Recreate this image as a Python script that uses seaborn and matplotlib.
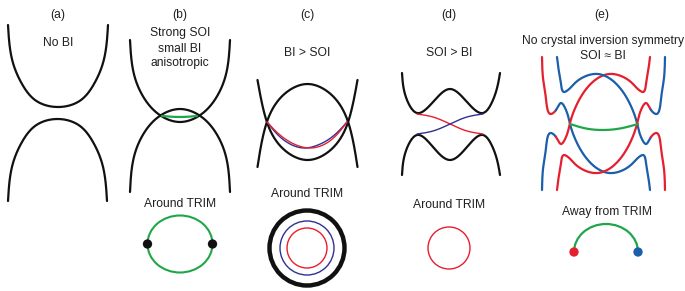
import numpy as np
import matplotlib
matplotlib.use("Agg")
import matplotlib.pyplot as plt
import seaborn as sns
from matplotlib.patches import Circle, Ellipse, Arc

# ==========================================
# Key points of the schematic curves (pixels, y down)
# ==========================================

# (a) no BI
a_up_x = [8, 13, 22, 35, 58, 81, 94, 103, 108]
a_up_y = [25, 63, 84, 100, 107, 100, 84, 63, 25]
a_lo_x = [8, 13, 22, 35, 57.5, 80, 93, 102, 107]
a_lo_y = [201, 163, 142, 126, 119, 126, 142, 163, 201]

# (b) strong SOI, small BI
b_up_x = [130, 135, 144, 157, 180, 203, 216, 225, 230]
b_up_y = [40, 78, 98, 113, 122, 113, 98, 78, 40]
b_lo_x = [130, 135, 144, 157, 180, 203, 216, 225, 230]
b_lo_y = [192, 153, 133, 118, 109, 118, 133, 153, 192]
b_green_x = [162, 180, 197]
b_green_y = [116, 117, 116]

# (c) BI > SOI
c_up_x = [257.5, 263.5, 272.5, 287.5, 307.5, 327.5, 342.5, 351.5, 357.5]
c_up_y = [80, 110, 135, 152.5, 160, 152.5, 135, 110, 80]
c_lo_x = [257.5, 263.5, 272.5, 287.5, 307.5, 327.5, 342.5, 351.5, 357.5]
c_lo_y = [167, 134, 109, 91.5, 84, 91.5, 109, 134, 167]
c_red_x = [267, 280, 295, 311, 325, 337, 347]
c_red_y = [122, 135, 144.5, 148, 144, 134.5, 122]
c_blue_x = [267, 277, 290, 304, 318, 332, 347]
c_blue_y = [122, 134, 144, 148, 145, 137, 122]

# (d) SOI > BI
d_up_x = [402, 407, 417, 433, 450, 467, 483, 493, 500]
d_up_y = [73, 100, 113, 102, 89, 102, 113, 100, 73]
d_lo_x = [402, 407, 417, 433, 450, 467, 483, 493, 500]
d_lo_y = [175, 148, 135, 147, 160, 147, 135, 148, 175]
d_red_x = [417, 433, 450, 467, 483]
d_red_y = [114, 117, 124, 131, 134]
d_blue_x = [417, 433, 450, 467, 483]
d_blue_y = [134, 131, 124, 117, 114]

# (e) no crystal inversion symmetry, four bands (colour changes at one knot)
e1_x = [542, 543, 546, 551, 556, 561, 566, 570, 577, 587, 598, 609, 621, 632, 639, 643, 646, 648, 650]
e1_y = [57, 78, 99, 114, 110, 103, 110, 124, 143, 159, 169, 173, 171, 164, 157, 155, 163, 175, 190]
e3_x = [542, 543, 546, 551, 556, 561, 566, 570, 577, 587, 598, 609, 621, 632, 639, 643, 646, 648, 650]
e3_y = [190, 169, 148, 133, 137, 144, 137, 123, 104, 88, 78, 74, 76, 83, 90, 92, 84, 72, 57]
e2_x = [557, 559, 561, 564, 568, 575, 586, 598, 609, 620, 630, 637, 641, 646, 651, 656, 661, 664, 665]
e2_y = [57, 72, 84, 92, 90, 83, 76, 74, 78, 88, 104, 123, 137, 144, 137, 133, 148, 169, 190]
e4_x = [557, 559, 561, 564, 568, 575, 586, 598, 609, 620, 630, 637, 641, 646, 651, 656, 661, 664, 665]
e4_y = [190, 175, 163, 155, 157, 164, 171, 173, 169, 159, 143, 124, 110, 103, 110, 114, 99, 78, 57]
e_green_x = [570, 586, 602, 620, 638]
e_green_y = [124, 128.5, 130, 128.5, 124]

# labels
titles = ["(a)", "(b)", "(c)", "(d)", "(e)"]
title_x = [58, 180, 307, 449, 602]

RED = "#E5202E"
NAVY = "#2E3192"
BLUE = "#1B5EAA"
GREEN = "#1FA64A"
BLACK = "#111111"
TXT = "#231F20"


def natural(t, v, ts):
    # natural cubic spline of v(t), evaluated at ts
    n = len(t)
    h = np.diff(t)
    A = np.zeros((n, n))
    r = np.zeros(n)
    A[0, 0] = A[-1, -1] = 1.0
    for i in range(1, n - 1):
        A[i, i - 1] = h[i - 1]
        A[i, i] = 2 * (h[i - 1] + h[i])
        A[i, i + 1] = h[i]
        r[i] = 6 * ((v[i + 1] - v[i]) / h[i] - (v[i] - v[i - 1]) / h[i - 1])
    M = np.linalg.solve(A, r)
    i = np.clip(np.searchsorted(t, ts) - 1, 0, n - 2)
    a = (t[i + 1] - ts) / h[i]
    b = (ts - t[i]) / h[i]
    return (a * v[i] + b * v[i + 1]
            + ((a**3 - a) * M[i] + (b**3 - b) * M[i + 1]) * h[i] ** 2 / 6)


def smooth(xk, yk, n=500):
    xk = np.asarray(xk, float)
    yk = np.asarray(yk, float)
    t = np.concatenate([[0], np.cumsum(np.hypot(np.diff(xk), np.diff(yk)))])
    ts = np.linspace(0, t[-1], n)
    return natural(t, xk, ts), natural(t, yk, ts), ts, t


def curve(ax, xk, yk, color, lw):
    xs, ys, _, _ = smooth(xk, yk)
    sns.lineplot(x=xs, y=ys, sort=False, estimator=None, color=color,
                 linewidth=lw, ax=ax)


def split_curve(ax, xk, yk, k, left_color, right_color, lw):
    xs, ys, ts, t = smooth(xk, yk)
    left = ts <= t[k]
    right = ts >= t[k] - 0.5
    sns.lineplot(x=xs[left], y=ys[left], sort=False, estimator=None,
                 color=left_color, linewidth=lw, ax=ax)
    sns.lineplot(x=xs[right], y=ys[right], sort=False, estimator=None,
                 color=right_color, linewidth=lw, ax=ax)


sns.set_theme(style="white")
plt.rcParams["font.family"] = ["Liberation Sans", "DejaVu Sans"]

fig = plt.figure(figsize=(6.85, 2.91), dpi=100)
ax = fig.add_axes([0, 0, 1, 1])
ax.set_xlim(0, 685)
ax.set_ylim(291, 0)
ax.axis("off")

FS = 8.7


def label(x, y, s):
    ax.text(x, y, s, ha="center", va="center", fontsize=FS, color=TXT)


for t, x in zip(titles, title_x):
    label(x, 15, t)

# ---------------- (a)
label(58, 43, "No BI")
curve(ax, a_up_x, a_up_y, BLACK, 1.6)
curve(ax, a_lo_x, a_lo_y, BLACK, 1.6)

# ---------------- (b)
label(180, 33, "Strong SOI")
label(180, 49, "small BI")
label(180, 63, "anisotropic")
curve(ax, b_up_x, b_up_y, BLACK, 1.6)
curve(ax, b_lo_x, b_lo_y, BLACK, 1.6)
curve(ax, b_green_x, b_green_y, GREEN, 1.6)
label(180, 204, "Around TRIM")
ax.add_patch(Ellipse((180, 244), 65, 57, fill=False, color=GREEN, lw=1.5))
sns.scatterplot(x=[147.5, 212.5], y=[244, 244], color=BLACK, s=45,
                edgecolor="none", ax=ax, zorder=5)

# ---------------- (c)
label(307, 53, "BI > SOI")
curve(ax, c_up_x, c_up_y, BLACK, 1.6)
curve(ax, c_lo_x, c_lo_y, BLACK, 1.6)
curve(ax, c_blue_x, c_blue_y, NAVY, 1.0)
curve(ax, c_red_x, c_red_y, RED, 1.0)
label(307, 194, "Around TRIM")
ax.add_patch(Circle((307, 248), 37.5, fill=False, color=BLACK, lw=3.2))
ax.add_patch(Circle((307, 248), 27, fill=False, color=NAVY, lw=1.0))
ax.add_patch(Circle((307, 248), 20, fill=False, color=RED, lw=1.0))

# ---------------- (d)
label(449, 53, "SOI > BI")
curve(ax, d_up_x, d_up_y, BLACK, 1.6)
curve(ax, d_lo_x, d_lo_y, BLACK, 1.6)
curve(ax, d_red_x, d_red_y, RED, 1.0)
curve(ax, d_blue_x, d_blue_y, NAVY, 1.0)
label(449, 205, "Around TRIM")
ax.add_patch(Circle((449, 248), 21, fill=False, color=RED, lw=1.0))

# ---------------- (e)
label(603, 41, "No crystal inversion symmetry")
label(603, 56, "SOI \u2248 BI")
split_curve(ax, e1_x, e1_y, 4, RED, BLUE, 1.6)
split_curve(ax, e3_x, e3_y, 4, BLUE, RED, 1.6)
split_curve(ax, e2_x, e2_y, 14, BLUE, RED, 1.6)
split_curve(ax, e4_x, e4_y, 14, RED, BLUE, 1.6)
curve(ax, e_green_x, e_green_y, GREEN, 1.6)
label(607, 212, "Away from TRIM")
ax.add_patch(Arc((606, 252), 64, 56, theta1=180, theta2=360, color=GREEN, lw=1.6))
sns.scatterplot(x=[574], y=[252], color=RED, s=45, edgecolor="none", ax=ax, zorder=5)
sns.scatterplot(x=[638], y=[252], color=BLUE, s=45, edgecolor="none", ax=ax, zorder=5)

fig.savefig("out.png", dpi=100)
